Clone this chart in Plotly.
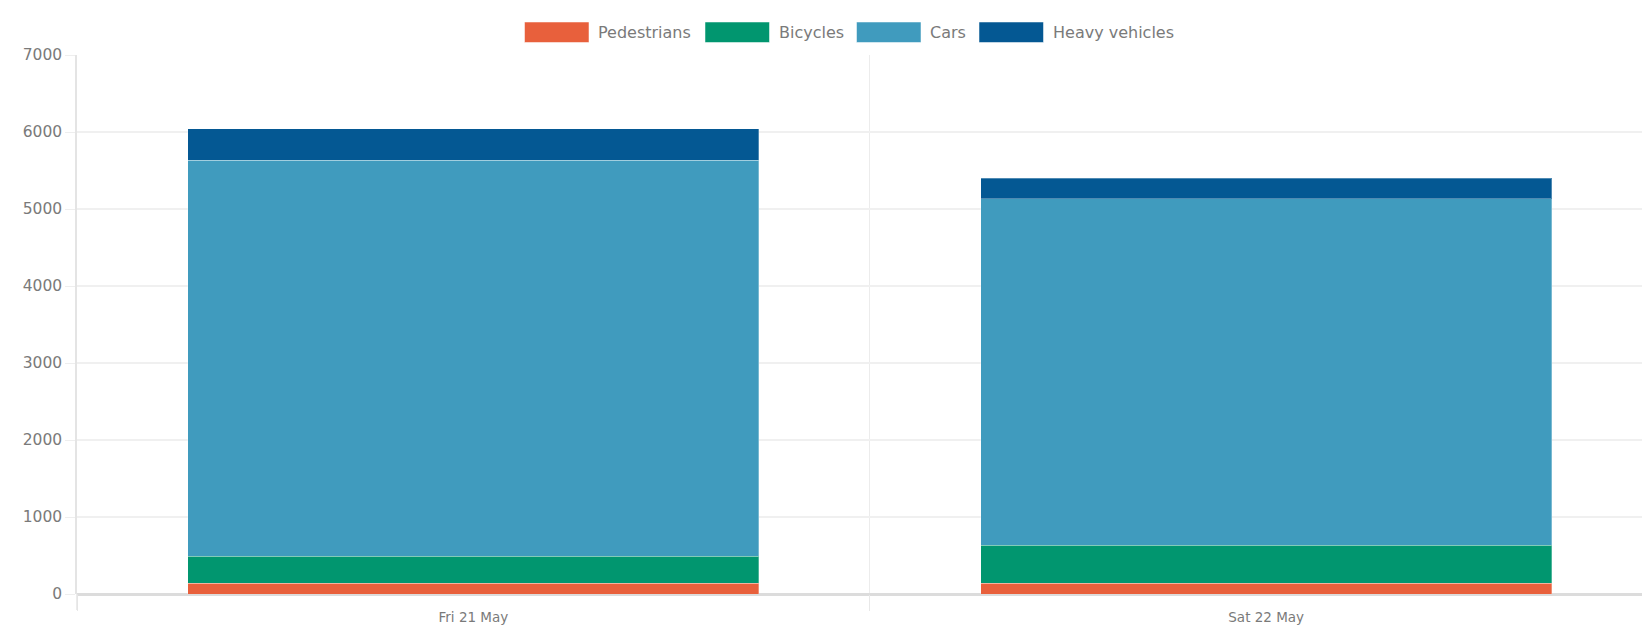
import plotly.graph_objects as go

# ---- data ----
categories = ["Fri 21 May", "Sat 22 May"]
series_names = ["Pedestrians", "Bicycles", "Cars", "Heavy vehicles"]
pedestrians = [140, 140]
bicycles = [350, 495]
cars = [5140, 4500]
heavy_vehicles = [410, 265]
y_ticks = [0, 1000, 2000, 3000, 4000, 5000, 6000, 7000]

colors = ["#E8603C", "#01966F", "#409BBE", "#045893"]
series_values = [pedestrians, bicycles, cars, heavy_vehicles]

W, H = 1642, 628
L, R, T, B = 77, 0, 55, 34
FONT = "DejaVu Sans"
TXT = "#7a7a7a"

fig = go.Figure()
for name, vals, col in zip(series_names, series_values, colors):
    fig.add_trace(go.Bar(
        x=categories, y=vals, name=name, width=0.72,
        marker=dict(color=col, line=dict(color="rgba(255,255,255,0.3)", width=1)),
        showlegend=False,
    ))

fig.update_layout(
    width=W, height=H,
    margin=dict(l=L, r=R, t=T, b=B, pad=0),
    barmode="stack",
    paper_bgcolor="white", plot_bgcolor="white",
    font=dict(family=FONT, color=TXT),
    xaxis=dict(
        type="category", range=[-0.5, 1.474],
        showgrid=True, gridcolor="#ececec", gridwidth=1,
        tickson="boundaries", ticks="outside", ticklen=16, tickcolor="#e8e8e8",
        ticklabelstandoff=13,
        showline=False, zeroline=False,
        tickfont=dict(family=FONT, size=13.5, color=TXT),
    ),
    yaxis=dict(
        range=[0, 7000], tickvals=y_ticks, ticktext=[str(v) for v in y_ticks],
        showgrid=True, gridcolor="#f0f0f0", gridwidth=1.5,
        zeroline=True, zerolinecolor="#dcdcdc", zerolinewidth=2.5,
        showline=True, linecolor="#e4e4e4", linewidth=1.5,
        ticks="outside", ticklen=10, tickcolor="#eeeeee",
        tickfont=dict(family=FONT, size=15.5, color=TXT),
    ),
)

# ---- custom legend (wide swatches, as in the reference) ----
pw, ph = W - L - R, H - T - B
def px_x(x):
    return (x - L) / pw
def px_y(y):
    return (H - B - y) / ph

swatch_left = [524.5, 705, 856.5, 979]
swatch_w, swatch_top, swatch_bot = 64.5, 22, 42.5
for name, col, x0 in zip(series_names, colors, swatch_left):
    fig.add_shape(type="rect", xref="paper", yref="paper",
                  x0=px_x(x0), x1=px_x(x0 + swatch_w),
                  y0=px_y(swatch_bot), y1=px_y(swatch_top),
                  fillcolor=col, line=dict(color="rgba(255,255,255,0.5)", width=1))
    fig.add_annotation(xref="paper", yref="paper",
                       x=px_x(x0 + swatch_w + 7), y=px_y((swatch_top + swatch_bot) / 2),
                       text=name, showarrow=False, xanchor="left", yanchor="middle",
                       font=dict(family=FONT, size=16, color=TXT))

# extend left axis line below the baseline like the reference
fig.add_shape(type="line", xref="paper", yref="paper",
              x0=0, x1=0, y0=px_y(610), y1=0,
              line=dict(color="#e4e4e4", width=1.5))

fig.write_html("out.html")
